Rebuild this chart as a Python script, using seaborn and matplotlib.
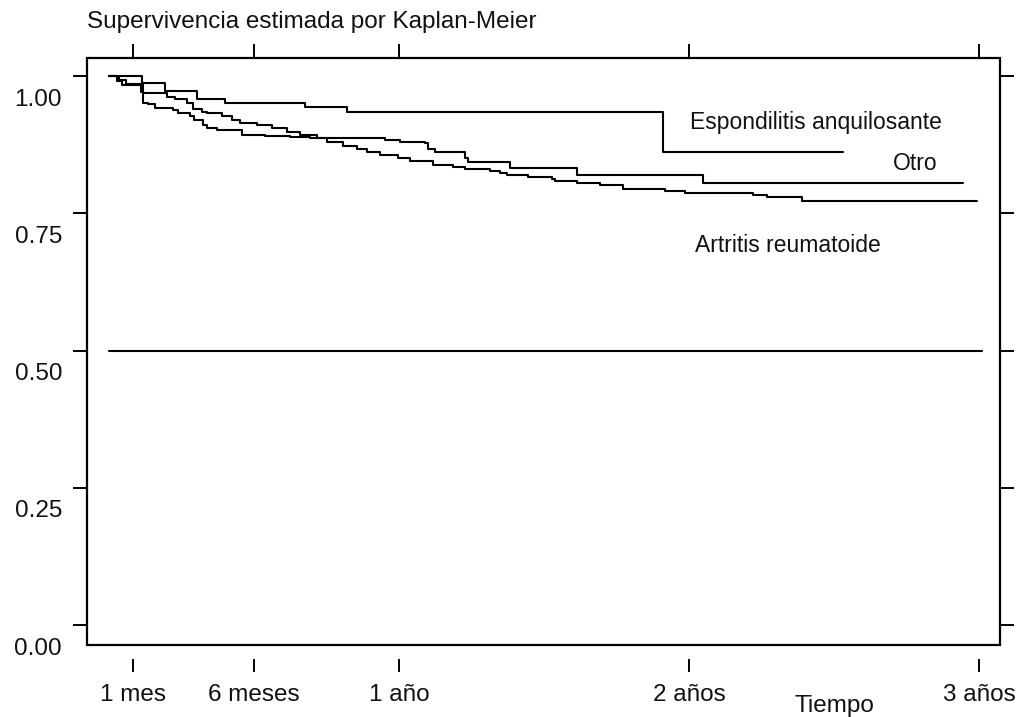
import matplotlib
matplotlib.use("Agg")
import matplotlib.pyplot as plt
import matplotlib.transforms as mtransforms
from matplotlib.patches import Rectangle
import seaborn as sns
import pandas as pd

sns.set_theme(style="white")
plt.rcParams['font.family'] = ['Liberation Sans', 'DejaVu Sans']

# ---- data (time in months, survival probability) ----
ea_time = [0, 1.37, 2.32, 3.64, 4.80, 8.11, 9.85, 22.92, 30.37]
ea_surv = [1.0, 0.988, 0.973, 0.959, 0.951, 0.944, 0.934, 0.861, 0.861]

otro_time = [0, 0.33, 0.54, 1.32, 1.39, 1.61, 1.90, 2.65, 2.85, 3.35, 3.52, 3.89,
             4.05, 4.47, 5.50, 6.45, 7.49, 8.32, 11.42, 12.04, 13.07, 13.20,
             13.49, 14.73, 14.85, 16.59, 19.36, 24.58, 35.33]
otro_surv = [1.0, 0.991, 0.984, 0.971, 0.951, 0.949, 0.942, 0.939, 0.933, 0.927,
             0.920, 0.911, 0.905, 0.902, 0.893, 0.891, 0.889, 0.887, 0.884, 0.880,
             0.879, 0.868, 0.861, 0.851, 0.843, 0.832, 0.820, 0.806, 0.806]

ar_time = [0, 0.41, 0.70, 1.41, 2.40, 2.73, 3.23, 3.48, 3.85, 4.05, 4.68, 5.09,
           5.42, 6.12, 6.74, 7.36, 7.90, 8.61, 9.02, 9.68, 10.26, 10.67, 11.21,
           11.96, 12.45, 13.41, 14.23, 14.73, 15.76, 16.18, 16.47, 17.34, 18.33,
           18.45, 19.36, 20.31, 21.27, 23.00, 23.83, 26.64, 27.22, 28.67, 35.91]
ar_surv = [1.0, 0.993, 0.986, 0.970, 0.962, 0.958, 0.951, 0.941, 0.935, 0.933,
           0.927, 0.920, 0.915, 0.911, 0.905, 0.899, 0.893, 0.887, 0.880, 0.872,
           0.868, 0.862, 0.856, 0.851, 0.845, 0.838, 0.835, 0.831, 0.828, 0.823,
           0.820, 0.817, 0.812, 0.809, 0.806, 0.801, 0.795, 0.791, 0.787, 0.783,
           0.779, 0.773, 0.773]

median_time = [0, 36.1]
median_surv = [0.5, 0.5]

group_names = ["Espondilitis anquilosante", "Otro", "Artritis reumatoide"]
label_time = [24.04, 32.44, 24.24]
label_surv = [0.916, 0.841, 0.692]

xtick_values = [1, 6, 12, 24, 36]
xtick_labels = ["1 mes", "6 meses", "1 año", "2 años", "3 años"]
ytick_values = [0.0, 0.25, 0.50, 0.75, 1.0]
ytick_labels = ["0.00", "0.25", "0.50", "0.75", "1.00"]

df = pd.concat([
    pd.DataFrame({"t": ea_time, "s": ea_surv, "grupo": group_names[0]}),
    pd.DataFrame({"t": otro_time, "s": otro_surv, "grupo": group_names[1]}),
    pd.DataFrame({"t": ar_time, "s": ar_surv, "grupo": group_names[2]}),
], ignore_index=True)
df_med = pd.DataFrame({"t": median_time, "s": median_surv})

# ---- figure ----
fig = plt.figure(figsize=(10.26, 7.17), dpi=100)
ax = fig.add_axes([87/1026, 1 - 645/717, (1000-87)/1026, (645-58)/717])

sns.lineplot(data=df, x="t", y="s", units="grupo", estimator=None, color="black",
             drawstyle="steps-post", lw=1.5, ax=ax, legend=False)
sns.lineplot(data=df_med, x="t", y="s", color="black", lw=1.5, ax=ax, legend=False)

for name, tx, sy in zip(group_names, label_time, label_surv):
    ax.text(tx, sy, name, fontsize=16.5, ha="left", va="center", color="#111111")

ax.set_xlim(-0.91, 36.86)
ax.set_ylim(-0.036, 1.033)
ax.set_xticks(xtick_values)
ax.set_xticklabels(xtick_labels)
ax.set_yticks(ytick_values)
ax.set_yticklabels(ytick_labels)
ax.set_xlabel("Tiempo", fontsize=17.5, color="#111111")
ax.xaxis.set_label_coords(0.819, -0.085)
ax.set_ylabel("")

for sp in ax.spines.values():
    sp.set_visible(False)
ax.spines["bottom"].set_position(("outward", 10))
ax.add_patch(Rectangle((0, 0), 1, 1, transform=ax.transAxes, fill=False,
                       lw=1.6, edgecolor="black", clip_on=False, zorder=5))

ax.tick_params(axis="both", which="major", direction="out", colors="black",
               width=1.4, labelsize=17.5, labelcolor="#111111")
ax.tick_params(axis="y", left=True, right=True, length=10, pad=8)
ax.tick_params(axis="x", bottom=True, top=False, length=9, pad=9)
# top ticks attached to the frame, mirroring the bottom ones
secx = ax.secondary_xaxis("top")
secx.set_xticks(xtick_values)
secx.tick_params(direction="out", length=10, width=1.4, labeltop=False, colors="black")
for sp in secx.spines.values():
    sp.set_visible(False)

offset = mtransforms.ScaledTranslation(0, -0.21, fig.dpi_scale_trans)
for lab in ax.get_yticklabels():
    lab.set_transform(lab.get_transform() + offset)

fig.text(87/1026, 1 - 28/717, "Supervivencia estimada por Kaplan-Meier",
         fontsize=17.5, ha="left", va="baseline", color="#111111")
ax.grid(False)

fig.savefig("out.png", dpi=100, facecolor="white")
